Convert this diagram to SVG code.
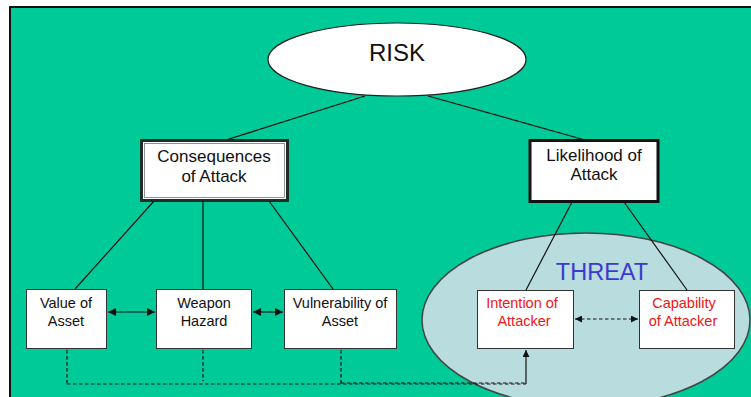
<svg xmlns="http://www.w3.org/2000/svg" width="751" height="397" viewBox="0 0 751 397">
<style>
.t{font-family:"Liberation Sans",Arial,sans-serif;text-anchor:middle;fill:#111}
.s{font-size:17px}
.m{font-size:14.5px}
.red{fill:#F21515}
.box{fill:#fff;stroke:#333;stroke-width:1}
.ln{stroke:#111;stroke-width:1.2;fill:none}
.dash{stroke:#111;stroke-width:1.2;fill:none;stroke-dasharray:3.5 2.5}
</style>
<defs>
<marker id="ah" viewBox="0 0 10 10" refX="10" refY="5" markerWidth="7" markerHeight="7" markerUnits="userSpaceOnUse" orient="auto-start-reverse">
<path d="M0,0 L10,5 L0,10 z" fill="#111"/>
</marker>
<marker id="ah2" viewBox="0 0 10 10" refX="10" refY="5" markerWidth="8" markerHeight="8" markerUnits="userSpaceOnUse" orient="auto-start-reverse">
<path d="M0,0 L10,5 L0,10 z" fill="#111"/>
</marker>
</defs>
<rect x="0" y="0" width="751" height="397" fill="#fff"/>
<rect x="10" y="7" width="760" height="410" fill="#00CB98" stroke="#111" stroke-width="2"/>

<g id="threat">
<ellipse cx="586" cy="320" rx="164" ry="87" fill="#B9DCDF" stroke="#444" stroke-width="1.5"/>
<text class="t" x="602" y="280" font-size="23.5" style="fill:#3A3AD0">THREAT</text>
</g>

<g id="connectors">
<line class="ln" x1="365" y1="96" x2="226" y2="140"/>
<line class="ln" x1="428" y1="96" x2="585" y2="140"/>
<line class="ln" x1="154" y1="201" x2="75" y2="289"/>
<line class="ln" x1="203" y1="201" x2="203" y2="289"/>
<line class="ln" x1="269" y1="201" x2="333" y2="289"/>
<line class="ln" x1="572" y1="202" x2="526" y2="290"/>
<line class="ln" x1="624" y1="202" x2="687" y2="290"/>
<line class="ln" x1="108" y1="312" x2="155" y2="312" stroke-width="1.5" marker-start="url(#ah2)" marker-end="url(#ah2)"/>
<line class="ln" x1="253" y1="312" x2="283" y2="312" stroke-width="1.5" marker-start="url(#ah2)" marker-end="url(#ah2)"/>
<line class="dash" x1="575" y1="319" x2="638" y2="319" marker-start="url(#ah)" marker-end="url(#ah)"/>
<line class="dash" x1="67" y1="350" x2="67" y2="384"/>
<line class="dash" x1="203" y1="350" x2="203" y2="381"/>
<line class="dash" x1="341" y1="350" x2="341" y2="384"/>
<polyline class="dash" points="67,384 526,384"/>
<line class="dash" x1="341" y1="383" x2="526" y2="383" stroke-dasharray="2 2" stroke-width="0.8"/>
<line class="ln" x1="526" y1="384" x2="526" y2="350" marker-end="url(#ah)"/>
</g>

<g id="risk">
<ellipse cx="397" cy="59.5" rx="129" ry="36.5" fill="#fff" stroke="#222" stroke-width="1.2"/>
<text class="t" x="397" y="61" font-size="24">RISK</text>
</g>

<g id="consequences">
<rect x="141.5" y="140.5" width="146" height="60" fill="#fff" stroke="#1d2d28" stroke-width="3"/>
<rect x="144.5" y="143.5" width="140" height="54" fill="none" stroke="#777" stroke-width="0.8"/>
<text class="t s" x="214" y="162">Consequences</text>
<text class="t s" x="214" y="182">of Attack</text>
</g>

<g id="likelihood">
<rect x="530" y="140.5" width="128" height="61" fill="#fff" stroke="#111" stroke-width="3"/>
<text class="t s" x="594" y="161">Likelihood of</text>
<text class="t s" x="594" y="180">Attack</text>
</g>

<g id="value">
<rect class="box" x="26.5" y="289.5" width="80" height="59"/>
<text class="t m" x="66" y="308">Value of</text>
<text class="t m" x="66" y="326">Asset</text>
</g>

<g id="weapon">
<rect class="box" x="156.5" y="289.5" width="95" height="59"/>
<text class="t m" x="204" y="308">Weapon</text>
<text class="t m" x="204" y="326">Hazard</text>
</g>

<g id="vulnerability">
<rect class="box" x="284.5" y="289.5" width="112" height="59"/>
<text class="t m" x="340" y="308">Vulnerability of</text>
<text class="t m" x="340" y="326">Asset</text>
</g>

<g id="intention">
<rect class="box" x="477.5" y="290.5" width="96" height="58"/>
<text class="t m red" x="522" y="308">Intention of</text>
<text class="t m red" x="524" y="326">Attacker</text>
</g>

<g id="capability">
<rect class="box" x="639.5" y="290.5" width="95" height="58"/>
<text class="t m red" x="684" y="308">Capability</text>
<text class="t m red" x="683" y="326">of Attacker</text>
</g>
</svg>
